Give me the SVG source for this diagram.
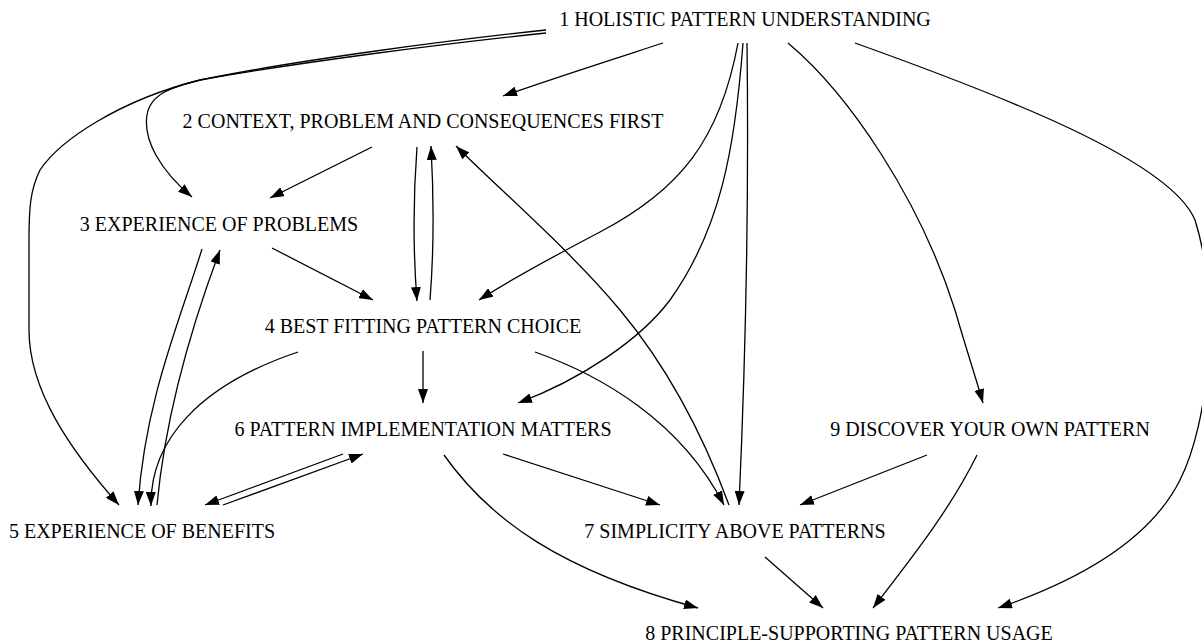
<svg xmlns="http://www.w3.org/2000/svg" width="1202" height="643" viewBox="0 0 1202 643">
<style>
text{font-family:"Liberation Serif","Times New Roman",serif;font-size:20px;fill:#000;text-anchor:middle}
.e path{fill:none;stroke:#000;stroke-width:1.3;marker-end:url(#a)}
</style>
<defs>
<marker id="a" markerWidth="14" markerHeight="10" refX="14" refY="5" orient="auto" markerUnits="userSpaceOnUse">
<path d="M0,0 L14,5 L0,10 z" fill="#000"/>
</marker>
</defs>
<rect width="1202" height="643" fill="#fff"/>
<g class="e" id="edges">
<path d="M663,43 C620,57 560,76 503,96"/>
<path d="M546,30 C450,40 300,60 210,78 C170,86 150,95 147,115 C143,140 160,170 192,197"/>
<path d="M546,33 C450,43 300,62 200,80 C120,100 60,140 40,170 C30,190 29,210 29,240 L29,330 C29,390 70,450 119,505"/>
<path d="M738,43 C720,140 680,190 600,232 C560,253 510,280 479,300"/>
<path d="M743,43 C735,150 720,230 670,300 C640,340 580,380 518,403"/>
<path d="M747,43 C749,200 746,350 739,505"/>
<path d="M788,43 C850,95 920,200 955,310 C965,345 975,375 983,403"/>
<path d="M855,43 C1000,95 1170,160 1195,220 C1220,300 1210,420 1180,480 C1150,540 1080,580 998,608"/>
<path d="M372,147 L270,198"/>
<path d="M417,147 C413,200 413,250 417,301"/>
<path d="M430,300 C434,250 434,200 431,146"/>
<path d="M729,505 C705,440 670,370 620,310 C570,250 500,190 456,146"/>
<path d="M272,248 L373,300"/>
<path d="M202,249 C180,320 145,400 138,505"/>
<path d="M157,505 C165,420 190,330 220,250"/>
<path d="M298,352 C200,385 150,440 151,506"/>
<path d="M423,351 L423,403"/>
<path d="M535,352 C600,375 680,420 724,505"/>
<path d="M343,454 L205,505"/>
<path d="M223,505 L363,454"/>
<path d="M503,454 L660,505"/>
<path d="M444,455 C490,520 560,570 698,608"/>
<path d="M927,455 L800,505"/>
<path d="M977,455 C950,510 910,560 873,608"/>
<path d="M765,557 L823,608"/>
</g>
<g id="n1"><text x="745" y="26">1 HOLISTIC PATTERN UNDERSTANDING</text></g>
<g id="n2"><text x="423" y="128">2 CONTEXT, PROBLEM AND CONSEQUENCES FIRST</text></g>
<g id="n3"><text x="219" y="231">3 EXPERIENCE OF PROBLEMS</text></g>
<g id="n4"><text x="423" y="333">4 BEST FITTING PATTERN CHOICE</text></g>
<g id="n5"><text x="142" y="538">5 EXPERIENCE OF BENEFITS</text></g>
<g id="n6"><text x="423" y="436">6 PATTERN IMPLEMENTATION MATTERS</text></g>
<g id="n7"><text x="735" y="538">7 SIMPLICITY ABOVE PATTERNS</text></g>
<g id="n8"><text x="849" y="640">8 PRINCIPLE-SUPPORTING PATTERN USAGE</text></g>
<g id="n9"><text x="990" y="436">9 DISCOVER YOUR OWN PATTERN</text></g>
</svg>
